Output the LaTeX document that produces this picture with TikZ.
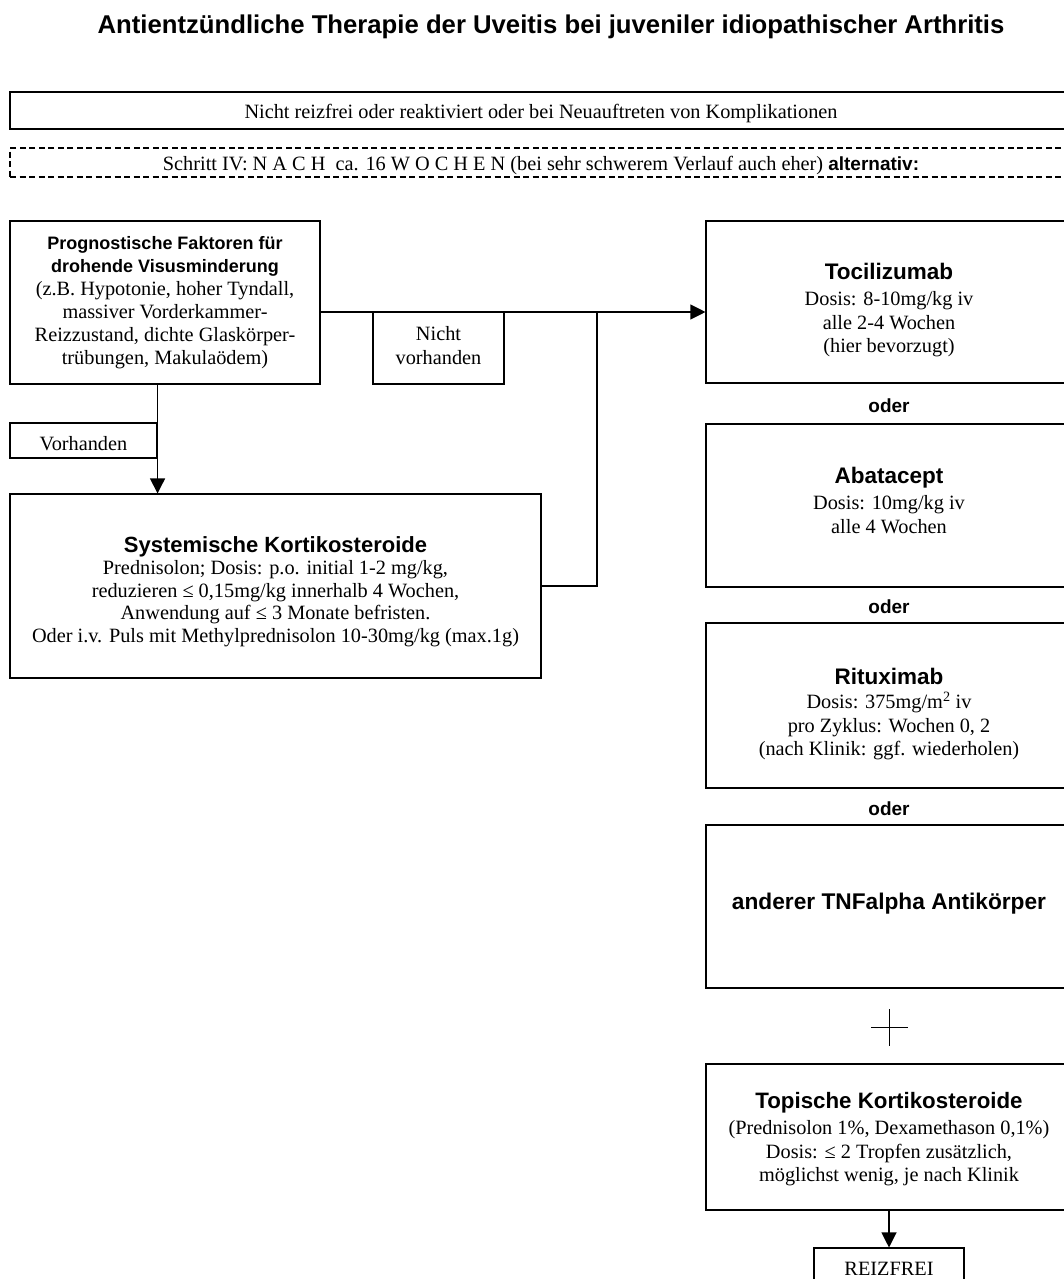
\documentclass[tikz,border=0pt]{standalone}
\usepackage{fontspec}
\setmainfont{Liberation Serif}
\setsansfont{Liberation Sans}
\usetikzlibrary{arrows.meta}
\newcommand\hdfont[1]{\fontsize{#1}{#1}\selectfont\sffamily\bfseries}
\newcommand\upr[1]{\rule{0pt}{#1pt}}
\newcommand\dnr[1]{\rule[-#1pt]{0pt}{0pt}}
\begin{document}
\begin{tikzpicture}[x=1pt,y=-1pt,
  box/.style={draw, line width=1.1pt, inner sep=0pt, align=center,
    font=\fontsize{20.3}{23}\selectfont},
  sbox/.style={box, font=\fontsize{20.3}{22.5}\selectfont},
  rbox/.style={box, minimum width=366pt, font=\fontsize{20.3}{23.5}\selectfont},
  plain/.style={inner sep=0pt, align=center},
  dbox/.style={box, dash pattern=on 6pt off 3.5pt},
  conn/.style={line width=1.1pt},
  arr/.style={conn, -{Triangle[length=15pt,width=15pt]}},
  oder/.style={plain, font=\hdfont{19}}]
\useasboundingbox (0,0) rectangle (1064,1279);
\fill[white] (0,0) rectangle (1064,1279);
\begin{scope}
\clip (0,0) rectangle (1064,1279);
\node[plain, font=\hdfont{25.7}] (title) at (551,27)
  {Antientzündliche Therapie der Uveitis bei juveniler idiopathischer Arthritis};
\node[box, minimum width=1062pt, minimum height=37pt] (nrf) at (541,110.5)
  {\upr{20}Nicht reizfrei oder reaktiviert oder bei Neuauftreten von Komplikationen};
\node[dbox, minimum width=1062pt, minimum height=29pt] (schritt) at (541,162.5)
  {\upr{20}Schritt IV: N A C H\ \ ca. 16 W O C H E N (bei sehr schwerem Verlauf auch eher) {\hdfont{19}alternativ:}};
\node[box, minimum width=310pt, minimum height=163pt] (prog) at (165,302.5)
  {{\hdfont{18}Prognostische Faktoren für}\\{\hdfont{18}drohende Visusminderung}\\
   (z.B. Hypotonie, hoher Tyndall,\\massiver Vorderkammer-\\Reizzustand, dichte Glaskörper-\\trübungen, Makulaödem)};
\node[box, minimum width=131pt, minimum height=72pt] (nv) at (438.5,348)
  {Nicht\\[1pt]vorhanden\dnr{6}};
\node[box, minimum width=147pt, minimum height=35pt] (vh) at (83.5,440.5)
  {\upr{20}Vorhanden};
\node[sbox, minimum width=531pt, minimum height=184pt] (sys) at (275.5,586)
  {{\hdfont{22}\upr{30}Systemische Kortikosteroide}\\
   Prednisolon; Dosis: p.o. initial 1-2 mg/kg,\\
   reduzieren ≤ 0,15mg/kg innerhalb 4 Wochen,\\
   Anwendung auf ≤ 3 Monate befristen.\\
   Oder i.v. Puls mit Methylprednisolon 10-30mg/kg (max.1g)\dnr{8}};
\node[rbox, minimum height=162pt] (toc) at (889,302)
  {{\hdfont{22.5}\upr{33}Tocilizumab}\\[2.5pt]Dosis: 8-10mg/kg iv\\alle 2-4 Wochen\\(hier bevorzugt)};
\node[oder] (o1) at (889,406) {oder};
\node[rbox, minimum height=163pt] (aba) at (889,505.5)
  {{\hdfont{22.5}\upr{37}Abatacept}\\[2.5pt]Dosis: 10mg/kg iv\\alle 4 Wochen\\ \strut};
\node[oder] (o2) at (889,607) {oder};
\node[rbox, minimum height=165pt] (rit) at (889,705.5)
  {{\hdfont{22.5}\upr{33}Rituximab}\\[1pt]Dosis: 375mg/m\textsuperscript{2} iv\\pro Zyklus: Wochen 0, 2\\(nach Klinik: ggf. wiederholen)};
\node[oder] (o3) at (889,809) {oder};
\node[rbox, minimum height=163pt] (tnf) at (889,906.5)
  {{\hdfont{22.7}anderer TNFalpha Antikörper\dnr{11}}};
\coordinate (plusc) at (889.5,1027.5);
\draw[conn] ([xshift=-18.5pt]plusc) -- ([xshift=18.5pt]plusc);
\draw[conn] ([yshift=18.5pt]plusc) -- ([yshift=-18.5pt]plusc);
\node[rbox, minimum height=146pt] (top) at (889,1137)
  {{\hdfont{22.3}\upr{20}Topische Kortikosteroide}\\[3pt](Prednisolon 1\%, Dexamethason 0,1\%)\\
   Dosis: ≤ 2 Tropfen zusätzlich,\\möglichst wenig, je nach Klinik};
\node[box, minimum width=150pt, minimum height=42pt] (frei) at (889,1269)
  {REIZFREI};
% connectors
\coordinate (j) at (597,312);
\draw[arr] (prog.east |- j) -- (toc.west |- j);
\draw[conn] (j) |- (sys.east);
\draw[arr] (prog.south -| vh.east) -- (sys.north -| vh.east);
\draw[arr] (top.south) -- (frei.north);
\end{scope}
\end{tikzpicture}
\end{document}
